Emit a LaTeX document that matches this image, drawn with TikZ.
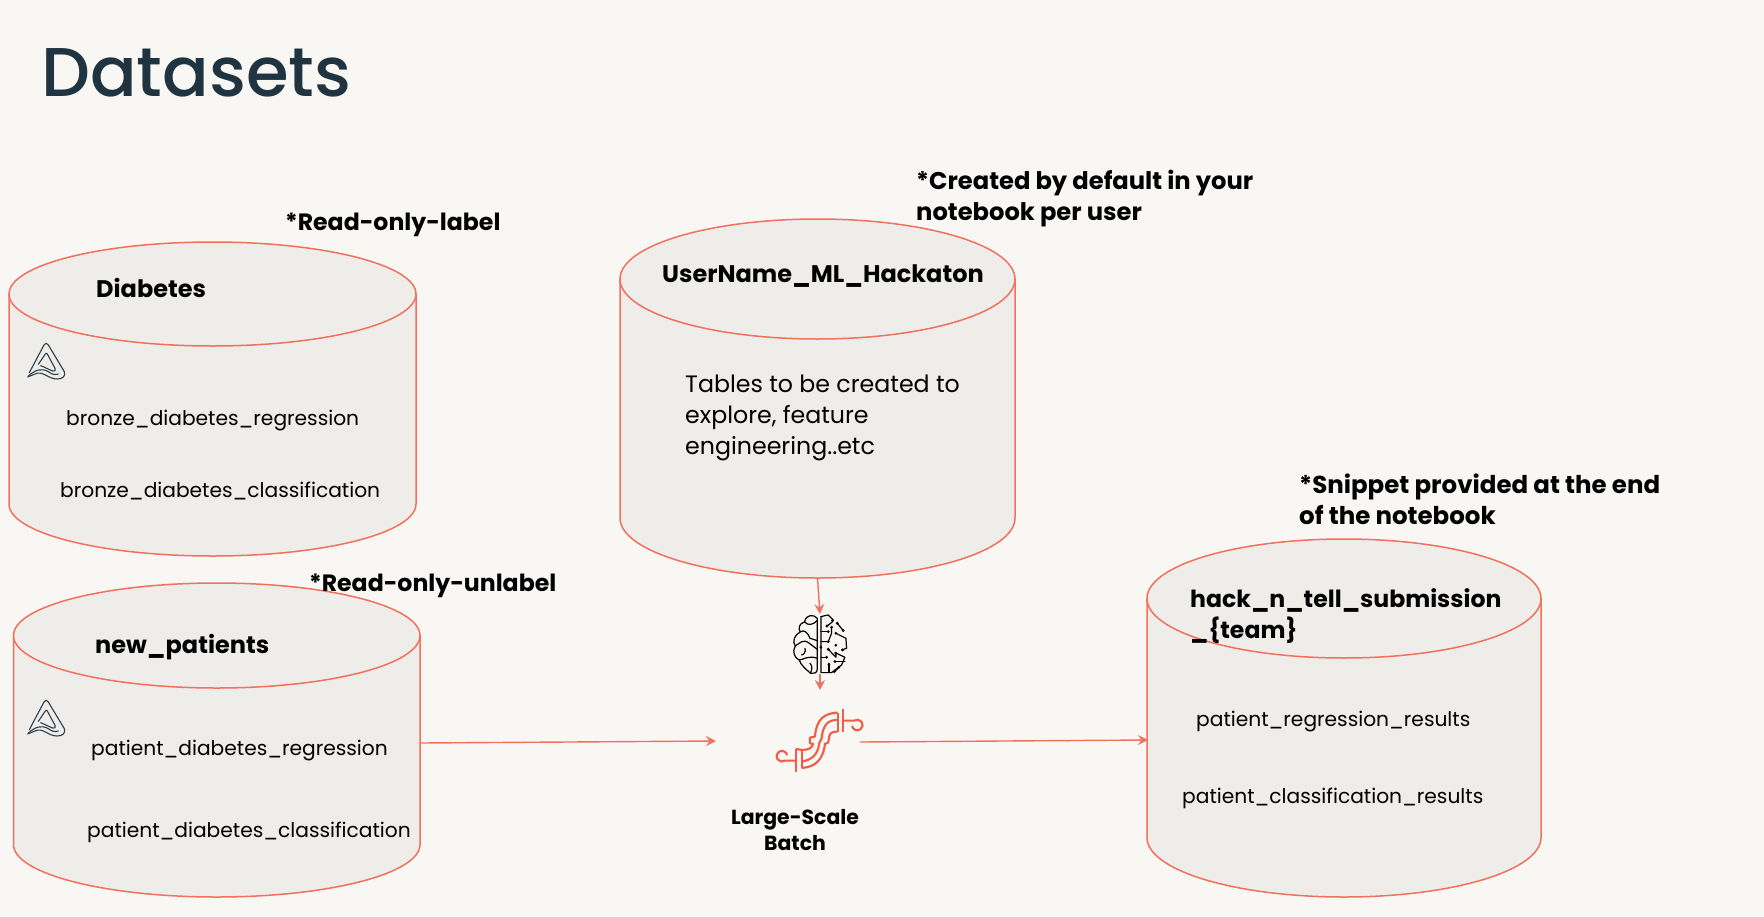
\documentclass[tikz,border=0pt]{standalone}
\usepackage{fontspec}
\setmainfont{Poppins}
\newfontfamily\medfont{Poppins Medium}
\usetikzlibrary{arrows.meta}
\definecolor{bgc}{HTML}{F8F7F4}
\definecolor{cylfill}{HTML}{EEEDEA}
\definecolor{redc}{HTML}{F2705C}
\definecolor{pipec}{HTML}{F25C45}
\definecolor{titlec}{HTML}{1F3440}
\definecolor{logoc}{HTML}{2B3F4C}
\newcommand{\cyl}[6]{% name, left, right, top, ellipse bottom, bottom
  \pgfmathsetmacro{\cx}{(#2+#3)/2}\pgfmathsetmacro{\rx}{(#3-#2)/2}
  \pgfmathsetmacro{\ry}{(#5-#4)/2}\pgfmathsetmacro{\ey}{(#4+#5)/2}
  \pgfmathsetmacro{\by}{#6-\ry}
  \draw[cylline] (#2,\ey) -- (#2,\by) arc[start angle=180,end angle=360,x radius=\rx,y radius=-\ry] -- (#3,\ey);
  \draw[cylline] (\cx,\ey) ellipse[x radius=\rx,y radius=\ry];
  \node[cylbox,minimum width={#3-#2},minimum height={#6-#4}] (#1) at (\cx,{(#4+#6)/2}) {};
}
\tikzset{
  x=1pt,y=-1pt,
  cylline/.style={draw=redc,fill=cylfill,line width=1.5pt},
  cylbox/.style={inner sep=0pt,outer sep=0pt},
  flow/.style={draw=redc,line width=1.4pt,-{Stealth[length=10pt,width=10pt,inset=3.5pt]}},
  body/.style={anchor=mid west,inner sep=0pt,font=\fontsize{20.2}{28}\selectfont,text=black},
  head/.style={anchor=mid west,inner sep=0pt,font=\fontsize{24}{31}\selectfont\bfseries,text=black},
  note/.style={anchor=west,align=left,inner sep=0pt,font=\fontsize{24}{31}\selectfont\bfseries,text=black},
  icon/.style={inner sep=0pt,outer sep=0pt},
  logopen/.style={draw=logoc,line width=1.1pt,line join=round,line cap=round},
  brainpen/.style={draw=black,line width=1.2pt,line join=round,line cap=round},
  pipepen/.style={draw=pipec,line width=2.1pt,line join=round},
  logoicon/.pic={
    \begin{scope}[x=.3333pt,y=-.3333pt]
      \draw[logopen] (88,158) -- (132,75) .. controls (136,68) and (141,68) .. (145,75) -- (193,155) .. controls (198,168) and (188,177) .. (172,177) .. controls (145,178) and (128,150) .. (105,162) -- (83,171);
      \draw[logopen] (85,168) .. controls (105,150) and (125,143) .. (145,155) .. controls (155,162) and (162,166) .. (175,162);
      \draw[logopen] (115,133) -- (136,102) .. controls (138,99) and (140,99) .. (142,102) -- (165,145) .. controls (168,152) and (165,155) .. (158,153) .. controls (145,148) and (135,142) .. (122,137);
    \end{scope}
  },
}
\begin{document}
\begin{tikzpicture}
\useasboundingbox[fill=bgc] (0,0) rectangle (1764,916);
\node[anchor=mid west,inner sep=0pt,text=titlec,font=\fontsize{69}{80}\selectfont\medfont] (title) at (41,94) {Datasets};

\cyl{diabetes}{9}{416}{242}{346}{556}
\cyl{newpatients}{13.5}{420}{583}{688}{897}
\cyl{userdb}{620}{1015}{219}{339}{578}
\cyl{submission}{1147}{1541}{539}{658}{897}

\path (0,320) pic {logoicon};
\path (0,677) pic {logoicon};

\node[note,font=\fontsize{23.6}{31}\selectfont\bfseries] (n1) at (285,225) {*Read-only-label};
\node[head] (h1) at (96,295) {Diabetes};
\node[body] (t1) at (66,423) {bronze\_diabetes\_regression};
\node[body] (t2) at (60,495) {bronze\_diabetes\_classification};

\node[note,font=\fontsize{23.6}{31}\selectfont\bfseries] (n2) at (309,586) {*Read-only-unlabel};
\node[head] (h2) at (95,651) {new\_patients};
\node[body] (t3) at (91,753) {patient\_diabetes\_regression};
\node[body] (t4) at (87,835) {patient\_diabetes\_classification};

\node[note,font=\fontsize{24.2}{31}\selectfont\bfseries] (n3) at (916,199) {*Created by default in your\\notebook per user};
\node[head] (h3) at (662,280) {UserName\_ML\_Hackaton};
\node[anchor=west,align=left,inner sep=0pt,text=black,font=\fontsize{23.7}{31}\selectfont] (t5) at (685,418) {Tables to be created to\\explore, feature\\engineering..etc};

\node[note,font=\fontsize{24.5}{31}\selectfont\bfseries] (n4) at (1299,499) {*Snippet provided at the end\\of the notebook};
\node[note,font=\fontsize{23.6}{31}\selectfont\bfseries] (h4) at (1190,616) {hack\_n\_tell\_submission\\\_\{team\}};
\node[body] (t6) at (1196,724) {patient\_regression\_results};
\node[body] (t7) at (1182,801) {patient\_classification\_results};

\node[anchor=center,align=center,inner sep=0pt,text=black,font=\fontsize{20.4}{26}\selectfont\bfseries] (batchlabel) at (795,830) {Large-Scale\\Batch};

% brain icon (coordinates in 3x zoom pixels)
\node[icon,minimum width=54pt,minimum height=60pt] (brain) at (820,644) {};
\begin{scope}[x=.3333pt,y=-.3333pt,shift={(2280,1710)}]
  \draw[brainpen] (172,145) .. controls (162,133) and (138,132) .. (134,156) .. controls (118,160) and (114,175) .. (121,186) .. controls (104,194) and (96,215) .. (106,228) .. controls (96,245) and (104,265) .. (118,270) .. controls (122,285) and (138,298) .. (152,310) .. controls (160,312) and (172,310) .. (172,298) -- (172,145);
  \draw[brainpen] (134,156) .. controls (145,168) and (158,165) .. (172,152);
  \draw[brainpen] (121,186) .. controls (132,176) and (145,190) .. (150,205) -- (172,212);
  \draw[brainpen] (106,228) .. controls (120,220) and (130,205) .. (148,220) -- (172,238);
  \draw[brainpen] (118,270) .. controls (130,270) and (145,255) .. (172,265);
  \draw[brainpen] (150,280) .. controls (160,290) and (155,300) .. (152,310);
  \draw[brainpen] (135,235) .. controls (140,245) and (130,255) .. (125,255);
  \draw[brainpen] (183,140) -- (183,308) -- (215,308) -- (245,285) -- (255,262) -- (225,248);
  \draw[brainpen] (183,140) -- (205,135) -- (220,150);
  \draw[brainpen] (232,160) -- (250,182);
  \draw[brainpen] (228,190) -- (258,205) -- (260,235) -- (245,240);
  \draw[brainpen] (183,185) -- (205,185);
  \draw[brainpen] (183,215) -- (205,215) -- (215,190) -- (215,172);
  \draw[brainpen] (200,170) -- (218,155);
  \draw[brainpen] (183,262) -- (200,262);
  \draw[brainpen] (205,238) -- (228,262) -- (228,250);
  \draw[brainpen] (207,283) -- (207,308);
  \draw[brainpen] (225,275) -- (255,275);
  \draw[brainpen] (237,292) -- (222,308);
  \foreach \p in {(218,152),(201,168),(232,160),(250,182),(215,172),(228,190),(205,185),(205,215),(183,232),(228,226),(205,238),(200,262),(248,240),(228,250),(225,275),(207,283),(237,292)}
    \fill \p circle[radius=4.6];
\end{scope}

% pipeline icon (coordinates in 3x zoom pixels)
\begin{scope}[x=.3333pt,y=-.3333pt,shift={(2280,1710)}]
  \draw[pipepen] (248,418) -- (248,485);
  \draw[pipepen] (248,452) -- (283,452) arc[start angle=-125,end angle=170,radius=16];
  \draw[pipepen] (233,428) .. controls (195,430) and (170,445) .. (165,500) -- (150,503) -- (150,520) -- (160,522) .. controls (155,538) and (140,540) .. (125,540) -- (108,537);
  \draw[pipepen] (233,485) .. controls (215,485) and (208,490) .. (207,505) -- (205,518) -- (195,522) .. controls (190,570) and (165,592) .. (125,594);
  \draw[pipepen] (233,450) .. controls (205,450) and (190,462) .. (185,505) -- (178,520) .. controls (174,555) and (155,570) .. (125,575);
  \draw[pipepen] (233,428) -- (233,485);
  \draw[pipepen] (125,540) -- (125,594);
  \draw[pipepen] (108,537) -- (108,605);
  \draw[pipepen] (108,572) -- (75,572) arc[start angle=55,end angle=350,radius=16];
\end{scope}

\coordinate (batchtop) at (820,690);
\coordinate (batchin) at (716,741);
\coordinate (batchout) at (860,742);
\coordinate (newout) at (420,743);
\coordinate (subin) at (1148,740);

\draw[flow] (userdb.south) -- (brain.north);
\draw[flow] (brain.south) -- (batchtop);
\draw[flow] (newout) -- (batchin);
\draw[flow] (batchout) -- (subin);
\end{tikzpicture}
\end{document}
